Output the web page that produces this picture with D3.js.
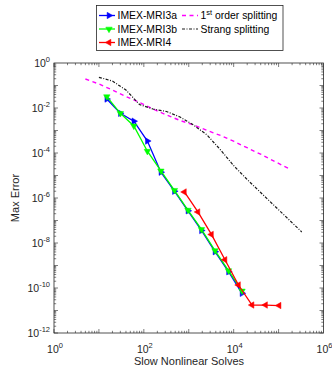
<!DOCTYPE html>
<meta charset="utf-8">
<style>
body { margin: 0; background: #fff; }
svg { font-family: 'Liberation Sans', Arial, sans-serif; }
.tick-label { font-size: 10.5px; fill: #262626; }
.axis-title { font-size: 11px; fill: #262626; }
.legend text { font-size: 10.4px; fill: #000; }
</style>
<svg width="332" height="370"></svg>
<script src="https://cdn.jsdelivr.net/npm/d3@7"></script>
<script>

// slow nonlinear solves (x) for each method
var xMRI3a = [15, 30, 60, 120, 240, 480, 960, 1920, 3840, 7680, 15360];
var yMRI3a = [0.025, 5.8e-3, 2.6e-3, 3.4e-4, 1.4e-5, 2.0e-6, 2.7e-7, 3.6e-8, 4.1e-9, 5.3e-10, 5.8e-11];

var xMRI3b = [15, 30, 60, 120, 240, 480, 960, 1920, 3840, 7680, 15360];
var yMRI3b = [0.032, 5.8e-3, 1.6e-3, 1.2e-4, 1.6e-5, 2.2e-6, 2.9e-7, 4.0e-8, 4.6e-9, 5.9e-10, 7.4e-11];

var xMRI4 = [800, 1600, 3200, 6400, 12800, 25600, 51200, 102400];
var yMRI4 = [1.85e-6, 2.4e-7, 2.4e-8, 1.8e-9, 1.36e-10, 1.75e-11, 1.75e-11, 1.66e-11];

var xFirst = [5, 10, 20, 40, 80, 160, 320, 640, 1280, 2560, 5120, 10240, 20480, 40960, 81920, 163840];
var yFirst = [0.194, 0.117, 0.063, 0.0325, 0.0176, 9.0e-3, 4.9e-3, 2.8e-3, 1.75e-3, 1.0e-3, 6.0e-4, 3.25e-4, 1.67e-4, 8.6e-5, 4.2e-5, 2.1e-5];

var xStrang = [10, 20, 40, 80, 160, 320, 640, 1280, 2560, 5120, 10240, 20480, 40960, 81920, 163840, 327680];
var yStrang = [0.231, 0.158, 0.063, 0.0143, 9.0e-3, 7.0e-3, 4.0e-3, 1.75e-3, 6.3e-4, 1.36e-4, 2.6e-5, 6.3e-6, 1.67e-6, 4.4e-7, 1.17e-7, 3.1e-8];

var xTickExp = [0, 2, 4, 6];
var yTickExp = [0, -2, -4, -6, -8, -10, -12];

var svg = d3.select("svg");
var pLeft = 54, pRight = 323.5, pTop = 63, pBottom = 333;

var x = d3.scaleLog().domain([1, 1e6]).range([pLeft, pRight]);
var y = d3.scaleLog().domain([1e-12, 1]).range([pBottom, pTop]);

svg.append("rect").attr("width", 332).attr("height", 370).attr("fill", "#fff");

// ticks (inward, all four sides)
var ticksG = svg.append("g").attr("stroke", "#262626").attr("stroke-width", 0.6);
var xt = [], yt = [];
for (var e = 0; e < 6; e++) for (var m = 1; m < 10; m++) xt.push({v: m * Math.pow(10, e), major: m == 1});
for (var e = -12; e < 0; e++) for (var m = 1; m < 10; m++) yt.push({v: m * Math.pow(10, e), major: m == 1});

xt.forEach(function(t) {
  var px = x(t.v), len = t.major ? 4 : 2.2;
  ticksG.append("line").attr("x1", px).attr("x2", px).attr("y1", pBottom).attr("y2", pBottom - len);
  ticksG.append("line").attr("x1", px).attr("x2", px).attr("y1", pTop).attr("y2", pTop + len);
});
yt.forEach(function(t) {
  var py = y(t.v), len = t.major ? 4 : 2.2;
  ticksG.append("line").attr("y1", py).attr("y2", py).attr("x1", pLeft).attr("x2", pLeft + len);
  ticksG.append("line").attr("y1", py).attr("y2", py).attr("x1", pRight).attr("x2", pRight - len);
});

svg.append("rect")
  .attr("x", pLeft).attr("y", pTop)
  .attr("width", pRight - pLeft).attr("height", pBottom - pTop)
  .attr("fill", "none").attr("stroke", "#262626").attr("stroke-width", 0.8);

// tick labels
xTickExp.forEach(function(p) {
  var t = svg.append("text").attr("class", "tick-label")
    .attr("x", x(Math.pow(10, p)) + 1).attr("y", 352.5)
    .attr("text-anchor", "middle");
  t.append("tspan").text("10");
  t.append("tspan").attr("dy", -5).style("font-size", "7.5px").text(p);
});
yTickExp.forEach(function(p) {
  var t = svg.append("text").attr("class", "tick-label")
    .attr("x", 50).attr("y", y(Math.pow(10, p)) + 4)
    .attr("text-anchor", "end");
  t.append("tspan").text("10");
  t.append("tspan").attr("dy", -5).style("font-size", "7.5px").text(p);
});

svg.append("text").attr("class", "axis-title")
  .attr("x", 189).attr("y", 364.5).attr("text-anchor", "middle")
  .text("Slow Nonlinear Solves");
svg.append("text").attr("class", "axis-title")
  .attr("transform", "translate(19,198) rotate(-90)").attr("text-anchor", "middle")
  .text("Max Error");

var line = d3.line().x(function(d) { return x(d[0]); }).y(function(d) { return y(d[1]); });

var series = [
  {xs: xFirst, ys: yFirst, color: "#ff00ff", dash: "4,3.5", width: 1.4},
  {xs: xStrang, ys: yStrang, color: "#1a1a1a", dash: "3,1.5,1,1.5", width: 1.2},
  {xs: xMRI3a, ys: yMRI3a, color: "#0000ff", width: 1.3, rot: 90},
  {xs: xMRI3b, ys: yMRI3b, color: "#00ff00", width: 1.3, rot: 180},
  {xs: xMRI4, ys: yMRI4, color: "#ff0000", width: 1.3, rot: -90}
];

var tri = d3.symbol().type(d3.symbolTriangle).size(18);

series.forEach(function(s) {
  var pts = d3.zip(s.xs, s.ys);
  svg.append("path").datum(pts)
    .attr("d", line)
    .attr("fill", "none")
    .attr("stroke", s.color)
    .attr("stroke-width", s.width)
    .attr("stroke-dasharray", s.dash || null);
  if (s.rot !== undefined) {
    svg.append("g").selectAll("path").data(pts).enter().append("path")
      .attr("d", tri)
      .attr("transform", function(d) { return "translate(" + x(d[0]) + "," + y(d[1]) + ") rotate(" + s.rot + ")"; })
      .attr("fill", s.color).attr("stroke", s.color).attr("stroke-width", 0.5);
  }
});

// legend
var lg = svg.append("g").attr("class", "legend");
lg.append("rect").attr("x", 96.5).attr("y", 5.5).attr("width", 186.5).attr("height", 45)
  .attr("fill", "#fff").attr("stroke", "#262626").attr("stroke-width", 0.8);

var legendItems = [
  {label: "IMEX-MRI3a", s: series[2], lx: 99, ly: 15.5},
  {label: "IMEX-MRI3b", s: series[3], lx: 99, ly: 29},
  {label: "IMEX-MRI4", s: series[4], lx: 99, ly: 42.5},
  {label: "1st order splitting", s: series[0], lx: 182, ly: 15.5},
  {label: "Strang splitting", s: series[1], lx: 182, ly: 29}
];
legendItems.forEach(function(it) {
  lg.append("line").attr("x1", it.lx).attr("x2", it.lx + 16)
    .attr("y1", it.ly).attr("y2", it.ly)
    .attr("stroke", it.s.color).attr("stroke-width", it.s.width)
    .attr("stroke-dasharray", it.s.dash || null);
  if (it.s.rot !== undefined) {
    lg.append("path").attr("d", tri)
      .attr("transform", "translate(" + (it.lx + 10) + "," + it.ly + ") rotate(" + it.s.rot + ")")
      .attr("fill", it.s.color).attr("stroke", it.s.color).attr("stroke-width", 0.5);
  }
  var t = lg.append("text").attr("x", it.lx + 18.5).attr("y", it.ly + 3.7);
  if (it.label.indexOf("1st") == 0) {
    t.append("tspan").text("1");
    t.append("tspan").attr("dy", -4.5).style("font-size", "7.5px").text("st");
    t.append("tspan").attr("dy", 4.5).text(" order splitting");
  } else {
    t.text(it.label);
  }
});

</script>
